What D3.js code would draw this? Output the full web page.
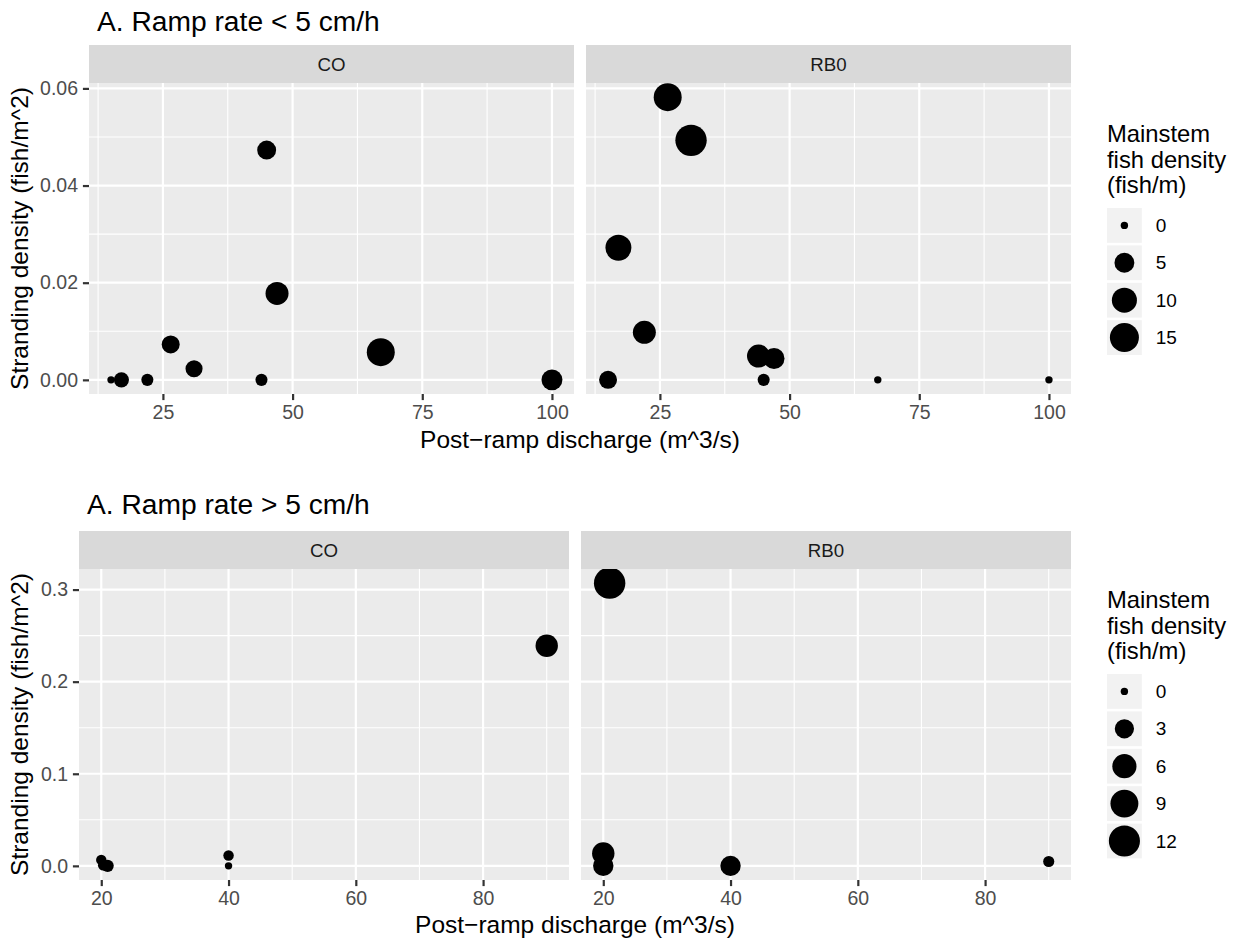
<!DOCTYPE html>
<html>
<head>
<meta charset="utf-8">
<script src="https://cdn.jsdelivr.net/npm/d3@7"></script>
<style>
  body { margin: 0; background: #ffffff; }
  svg text { font-family: "Liberation Sans", Arial, Helvetica, sans-serif; }
</style>
</head>
<body>
<svg id="chart" width="1238" height="941"></svg>
<script>
// Facet (site) names
const facetNames = ["CO", "RB0"];

// Ramp rate < 5 cm/h : post-ramp discharge (m^3/s), stranding density (fish/m^2),
// mainstem fish density (fish/m)
const slowDischarge      = [15, 17, 22, 26.5, 31, 44, 45, 47, 67, 100];
const slowStrandingCO    = [0, 0, 0, 0.0073, 0.0023, 0, 0.0473, 0.0178, 0.0057, 0];
const slowMainstemCO     = [0, 1.9, 0.7, 3.6, 3.0, 0.7, 4.3, 7.8, 13.6, 5.9];
const slowStrandingRB0   = [0, 0.0272, 0.0098, 0.0582, 0.0493, 0.0049, 0, 0.0044, 0, 0];
const slowMainstemRB0    = [3.6, 11.1, 7.8, 13.6, 18.5, 7.8, 0.7, 5.9, 0, 0];

// Ramp rate > 5 cm/h
const fastDischargeCO    = [20, 20.3, 21, 40, 40, 90];
const fastStrandingCO    = [0.0065, 0.0007, 0, 0.0112, 0, 0.239];
const fastMainstemCO     = [0.2, 0.2, 0.5, 0.2, 0, 4.8];
const fastDischargeRB0   = [21, 20, 20, 40, 90];
const fastStrandingRB0   = [0.307, 0.0134, 0, 0, 0.0047];
const fastMainstemRB0    = [12.3, 4.8, 3.6, 3.6, 0.3];

// Axis ticks and legend breaks
const slowXTicks = [25, 50, 75, 100];
const slowYTicks = [0, 0.02, 0.04, 0.06];
const slowLegendBreaks = [0, 5, 10, 15];
const fastXTicks = [20, 40, 60, 80];
const fastYTicks = [0, 0.1, 0.2, 0.3];
const fastLegendBreaks = [0, 3, 6, 9, 12];

const titles = ["A. Ramp rate < 5 cm/h", "A. Ramp rate > 5 cm/h"];
const xTitle = "Post\u2212ramp discharge (m^3/s)";
const yTitle = "Stranding density (fish/m^2)";
const legendTitle = ["Mainstem", "fish density", "(fish/m)"];

const rows = (xs, ys, ss) => xs.map((x, i) => ({ x: x, y: ys[i], s: ss[i] }));

const blocks = [
  {
    title: titles[0],
    facets: [rows(slowDischarge, slowStrandingCO, slowMainstemCO),
             rows(slowDischarge, slowStrandingRB0, slowMainstemRB0)],
    xTicks: slowXTicks, yTicks: slowYTicks, yFmt: d3.format(".2f"),
    legendBreaks: slowLegendBreaks,
    layout: { titleX: 97, titleY: 31, stripTop: 45, lefts: [89, 586], width: 485,
              legendY: 142, xTitleY: 448 }
  },
  {
    title: titles[1],
    facets: [rows(fastDischargeCO, fastStrandingCO, fastMainstemCO),
             rows(fastDischargeRB0, fastStrandingRB0, fastMainstemRB0)],
    xTicks: fastXTicks, yTicks: fastYTicks, yFmt: d3.format(".1f"),
    legendBreaks: fastLegendBreaks,
    layout: { titleX: 87, titleY: 514, stripTop: 531, lefts: [79, 581], width: 490,
              legendY: 608, xTitleY: 933 }
  }
];

const svg = d3.select("#chart");
const STRIP_H = 38, PANEL_H = 311;
const GRID_MAJOR = 2.2, GRID_MINOR = 1.1;
const FONT_TITLE = 28.2, FONT_AXIS_TITLE = 24.5, FONT_LEGEND_TITLE = 23.8;
const FONT_TICK = 19.5, FONT_STRIP = 18.7, FONT_LEGEND = 19;
const TICK_LEN = 6.1, TICK_PAD = 4.9;

function expand(ext) {
  const pad = (ext[1] - ext[0]) * 0.05;
  return [ext[0] - pad, ext[1] + pad];
}

function minorTicks(ticks, domain) {
  const step = ticks[1] - ticks[0];
  const out = [];
  const candidates = [ticks[0] - step / 2].concat(ticks.map(t => t + step / 2));
  candidates.forEach(v => { if (v > domain[0] && v < domain[1]) out.push(v); });
  return out;
}

blocks.forEach((b, bi) => {
  const L = b.layout;
  const all = b.facets.flat();
  const xDom = expand(d3.extent(all, d => d.x));
  const yDom = expand([0, d3.max(all, d => d.y)]);
  const sMax = d3.max(all, d => d.s);
  // area size scale (size 1..6), converted to a pixel radius
  const sizeScale = d3.scaleSqrt().domain([0, sMax]).range([1, 6]);
  const radius = v => sizeScale(v) * 2.4 + 1.3;

  const g = svg.append("g");

  g.append("text")
    .attr("x", L.titleX).attr("y", L.titleY)
    .attr("font-size", FONT_TITLE).attr("fill", "#000")
    .text(b.title);

  const panelTop = L.stripTop + STRIP_H;
  const panelBottom = panelTop + PANEL_H;
  const y = d3.scaleLinear().domain(yDom).range([panelBottom, panelTop]);

  b.facets.forEach((data, fi) => {
    const left = L.lefts[fi];
    const x = d3.scaleLinear().domain(xDom).range([left, left + L.width]);

    // strip
    g.append("rect").attr("x", left).attr("y", L.stripTop)
      .attr("width", L.width).attr("height", STRIP_H).attr("fill", "#D9D9D9");
    g.append("text").attr("x", left + L.width / 2).attr("y", L.stripTop + STRIP_H / 2)
      .attr("text-anchor", "middle").attr("dominant-baseline", "central")
      .attr("font-size", FONT_STRIP).attr("fill", "#1A1A1A").text(facetNames[fi]);

    // panel background
    g.append("rect").attr("x", left).attr("y", panelTop)
      .attr("width", L.width).attr("height", PANEL_H).attr("fill", "#EBEBEB");

    // grid lines
    const grid = g.append("g").attr("stroke", "#FFFFFF");
    minorTicks(b.xTicks, xDom).forEach(v => grid.append("line")
      .attr("x1", x(v)).attr("x2", x(v)).attr("y1", panelTop).attr("y2", panelBottom)
      .attr("stroke-width", GRID_MINOR));
    minorTicks(b.yTicks, yDom).forEach(v => grid.append("line")
      .attr("x1", left).attr("x2", left + L.width).attr("y1", y(v)).attr("y2", y(v))
      .attr("stroke-width", GRID_MINOR));
    b.xTicks.forEach(v => grid.append("line")
      .attr("x1", x(v)).attr("x2", x(v)).attr("y1", panelTop).attr("y2", panelBottom)
      .attr("stroke-width", GRID_MAJOR));
    b.yTicks.forEach(v => grid.append("line")
      .attr("x1", left).attr("x2", left + L.width).attr("y1", y(v)).attr("y2", y(v))
      .attr("stroke-width", GRID_MAJOR));

    // points, clipped to the panel
    const clipId = `clip-${bi}-${fi}`;
    g.append("clipPath").attr("id", clipId).append("rect")
      .attr("x", left).attr("y", panelTop).attr("width", L.width).attr("height", PANEL_H);
    g.append("g").attr("clip-path", `url(#${clipId})`)
      .selectAll("circle").data(data).join("circle")
      .attr("cx", d => x(d.x)).attr("cy", d => y(d.y))
      .attr("r", d => radius(d.s)).attr("fill", "#000");

    // x axis
    const xa = g.append("g").attr("transform", `translate(0,${panelBottom})`)
      .call(d3.axisBottom(x).tickValues(b.xTicks).tickSize(TICK_LEN).tickPadding(TICK_PAD));
    styleAxis(xa);

    // y axis on the first facet only
    if (fi === 0) {
      const ya = g.append("g").attr("transform", `translate(${left},0)`)
        .call(d3.axisLeft(y).tickValues(b.yTicks).tickFormat(b.yFmt)
          .tickSize(TICK_LEN).tickPadding(TICK_PAD));
      styleAxis(ya);
    }
  });

  // axis titles
  const xMid = (L.lefts[0] + L.lefts[1] + L.width) / 2;
  g.append("text").attr("x", xMid).attr("y", L.xTitleY)
    .attr("text-anchor", "middle").attr("font-size", FONT_AXIS_TITLE).attr("fill", "#000")
    .text(xTitle);
  g.append("text")
    .attr("transform", `translate(28,${(panelTop + panelBottom) / 2}) rotate(-90)`)
    .attr("text-anchor", "middle").attr("font-size", FONT_AXIS_TITLE).attr("fill", "#000")
    .text(yTitle);

  // size legend
  const lx = 1107;
  legendTitle.forEach((t, i) => g.append("text")
    .attr("x", lx).attr("y", L.legendY + i * 25.5)
    .attr("font-size", FONT_LEGEND_TITLE).attr("fill", "#000").text(t));
  const keyTop = L.legendY + 66;
  const KEY = 34.8, KEY_STEP = 37.4;
  b.legendBreaks.forEach((v, i) => {
    const ky = keyTop + i * KEY_STEP;
    g.append("rect").attr("x", lx).attr("y", ky).attr("width", KEY).attr("height", KEY)
      .attr("fill", "#F2F2F2");
    g.append("circle").attr("cx", lx + KEY / 2).attr("cy", ky + KEY / 2)
      .attr("r", radius(v)).attr("fill", "#000");
    g.append("text").attr("x", lx + KEY + 14).attr("y", ky + KEY / 2)
      .attr("dominant-baseline", "central").attr("font-size", FONT_LEGEND).attr("fill", "#000")
      .text(v);
  });
});

function styleAxis(sel) {
  sel.select(".domain").remove();
  sel.selectAll(".tick line").attr("stroke", "#333333").attr("stroke-width", GRID_MAJOR);
  sel.selectAll(".tick text").attr("fill", "#4D4D4D").attr("font-size", FONT_TICK)
    .attr("font-family", "\"Liberation Sans\", Arial, Helvetica, sans-serif");
}
</script>
</body>
</html>
